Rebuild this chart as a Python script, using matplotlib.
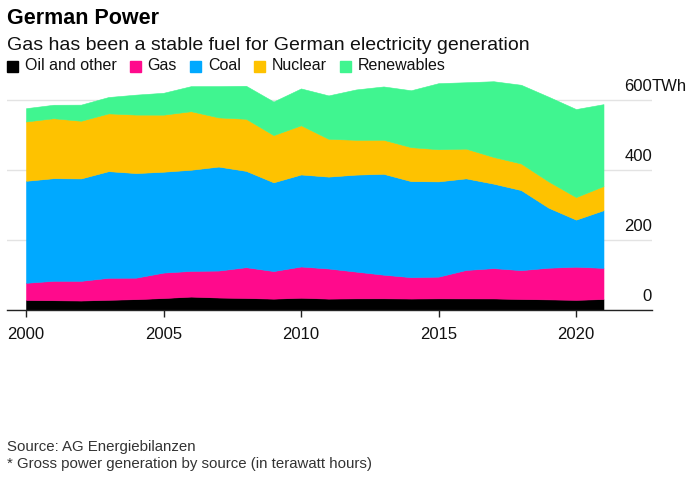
import matplotlib
matplotlib.use('Agg')
import matplotlib.pyplot as plt
from matplotlib.patches import Rectangle

plt.rcParams['font.family'] = ['Liberation Sans', 'DejaVu Sans']

# gross power generation by source, TWh
years = list(range(2000, 2022))
oil_other = [28.5, 27.9, 27.0, 29.1, 31.0, 34.2, 38.3, 35.6, 34.3, 32.4, 35.0,
             32.5, 33.3, 33.4, 32.7, 33.3, 33.1, 33.0, 31.4, 30.3, 29.0, 31.3]
gas = [49.2, 55.5, 56.3, 62.9, 61.4, 72.7, 73.4, 77.1, 88.0, 78.9, 89.3,
       86.1, 76.4, 67.5, 61.1, 62.0, 81.3, 86.7, 82.5, 90.5, 94.7, 89.1]
coal = [291.4, 293.2, 292.6, 304.7, 298.8, 288.2, 289.0, 297.1, 275.2, 253.5, 262.9,
        262.5, 277.1, 288.2, 274.4, 272.2, 261.7, 241.3, 228.8, 171.5, 134.5, 164.7]
nuclear = [169.6, 171.3, 164.8, 165.1, 167.1, 163.0, 167.3, 140.5, 148.8, 134.9, 140.6,
           108.0, 99.5, 97.3, 97.1, 91.8, 84.9, 76.3, 76.0, 75.1, 64.4, 69.1]
renewables = [37.9, 38.5, 46.0, 46.7, 57.0, 62.5, 71.6, 89.4, 94.3, 95.9, 105.2,
              124.0, 143.8, 152.3, 162.5, 188.8, 189.7, 216.3, 224.8, 242.0, 251.5, 233.9]

labels = ['Oil and other', 'Gas', 'Coal', 'Nuclear', 'Renewables']
colors = ['#000000', '#ff0a8c', '#00a9ff', '#fec200', '#40f590']
xticks = [2000, 2005, 2010, 2015, 2020]
yticks = [0, 200, 400, 600]

W, H = 688, 483
fig = plt.figure(figsize=(W / 100, H / 100), dpi=100)

def fx(x):
    return x / W

def fy(y):
    return 1 - y / H

# axes: x 7..652 px, y 79..310 px
ax = fig.add_axes([fx(7), fy(310), (652 - 7) / W, (310 - 79) / H])
polys = ax.stackplot(years, oil_other, gas, coal, nuclear, renewables,
                     colors=colors, linewidth=0)
for p, c in zip(polys, colors):
    p.set_edgecolor(c)
    p.set_linewidth(0.4)

ax.set_xlim(2000 - 19 / 27.5, 2021 + 48.5 / 27.5)
ax.set_ylim(0, 660)
ax.set_yticks(yticks)
ax.grid(axis='y', color='#e3e3e3', linewidth=1)
ax.set_axisbelow(True)
ax.tick_params(axis='y', length=0, labelleft=False)
for s in ['top', 'right', 'left']:
    ax.spines[s].set_visible(False)
ax.spines['bottom'].set_color('#222222')
ax.spines['bottom'].set_linewidth(1)
ax.set_xticks(xticks)
ax.tick_params(axis='x', direction='out', length=5, width=1, color='#222222',
               labelsize=12, pad=7, labelcolor='#111111')

tr = ax.get_yaxis_transform()
for v in yticks:
    ax.text(1.0, v + 38, str(v), transform=tr, ha='right', va='center',
            fontsize=12, color='#111111')
ax.text(1.0, 600 + 38, 'TWh', transform=tr, ha='left', va='center',
        fontsize=12, color='#111111')

fig.text(fx(7), fy(18), 'German Power', fontsize=15.5, fontweight='bold',
         va='center', ha='left')
fig.text(fx(7), fy(46), 'Gas has been a stable fuel for German electricity generation',
         fontsize=14, va='center', ha='left', color='#111111')

# legend row
fig.canvas.draw()
r = fig.canvas.get_renderer()
x = 7
for lab, c in zip(labels, colors):
    fig.patches.append(Rectangle((fx(x), fy(71.5)), 11 / W, 11 / H, color=c,
                                 transform=fig.transFigure, figure=fig))
    t = fig.text(fx(x + 18), fy(66), lab, fontsize=11.5, va='center', ha='left',
                 color='#111111')
    bb = t.get_window_extent(r)
    x = x + 18 + bb.width + 13

fig.text(fx(7), fy(447), 'Source: AG Energiebilanzen', fontsize=10.8,
         va='center', ha='left', color='#333333')
fig.text(fx(7), fy(464), '* Gross power generation by source (in terawatt hours)',
         fontsize=10.8, va='center', ha='left', color='#333333')

fig.savefig('out.png', dpi=100)
